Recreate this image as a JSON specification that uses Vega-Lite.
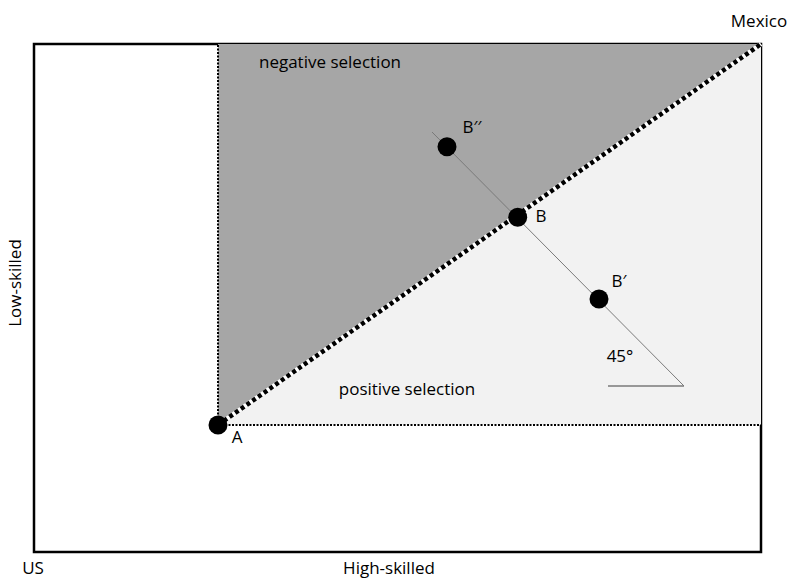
{
  "$schema": "https://vega.github.io/schema/vega-lite/v6.json",
  "width": 727,
  "height": 508,
  "autosize": {"type": "none"},
  "padding": {"left": 34, "top": 44, "right": 29, "bottom": 28},
  "background": "white",
  "config": {"view": {"stroke": "black", "strokeWidth": 2.5}, "font": "Open Sans"},
  "layer": [
    {
      "data": {"values": [{"x": 184, "y": 127, "y2": 508}, {"x": 727, "y": 508, "y2": 508}]},
      "mark": {"type": "area", "color": "#a6a6a6", "opacity": 1},
      "encoding": {
        "x": {"field": "x", "type": "quantitative", "scale": {"domain": [0, 727], "nice": false, "zero": false}, "axis": null},
        "y": {"field": "y", "type": "quantitative", "scale": {"domain": [0, 508], "nice": false, "zero": false}, "axis": null},
        "y2": {"field": "y2"}
      }
    },
    {
      "data": {"values": [{"x": 184, "y": 127, "y2": 127}, {"x": 727, "y": 508, "y2": 127}]},
      "mark": {"type": "area", "color": "#f2f2f2", "opacity": 1},
      "encoding": {
        "x": {"field": "x", "type": "quantitative", "axis": null},
        "y": {"field": "y", "type": "quantitative", "axis": null},
        "y2": {"field": "y2"}
      }
    },
    {
      "data": {"values": [
        {"x": 184, "y": 127, "x2": 184, "y2": 508, "kind": "v"},
        {"x": 184, "y": 127, "x2": 727, "y2": 127, "kind": "h"}
      ]},
      "mark": {"type": "rule", "color": "black", "strokeWidth": 2, "strokeDash": [2, 1.5], "strokeCap": "butt"},
      "encoding": {
        "x": {"field": "x", "type": "quantitative", "axis": null},
        "y": {"field": "y", "type": "quantitative", "axis": null},
        "x2": {"field": "x2"},
        "y2": {"field": "y2"}
      }
    },
    {
      "data": {"values": [{"x": 184, "y": 127, "x2": 727, "y2": 508}]},
      "mark": {"type": "rule", "color": "white", "strokeWidth": 4.5, "strokeCap": "butt"},
      "encoding": {
        "x": {"field": "x", "type": "quantitative", "axis": null},
        "y": {"field": "y", "type": "quantitative", "axis": null},
        "x2": {"field": "x2"},
        "y2": {"field": "y2"}
      }
    },
    {
      "data": {"values": [{"x": 184, "y": 127, "x2": 727, "y2": 508}]},
      "mark": {"type": "rule", "color": "black", "strokeWidth": 4.5, "strokeDash": [4, 3], "strokeCap": "butt"},
      "encoding": {
        "x": {"field": "x", "type": "quantitative", "axis": null},
        "y": {"field": "y", "type": "quantitative", "axis": null},
        "x2": {"field": "x2"},
        "y2": {"field": "y2"}
      }
    },
    {
      "data": {"values": [
        {"x": 398, "y": 420, "x2": 650, "y2": 166, "w": "thin"},
        {"x": 574, "y": 166, "x2": 650, "y2": 166, "w": "thick"}
      ]},
      "mark": {"type": "rule", "color": "#7a7a7a"},
      "encoding": {
        "x": {"field": "x", "type": "quantitative", "axis": null},
        "y": {"field": "y", "type": "quantitative", "axis": null},
        "x2": {"field": "x2"},
        "y2": {"field": "y2"},
        "strokeWidth": {"field": "w", "type": "nominal", "scale": {"domain": ["thin", "thick"], "range": [1, 1.6]}, "legend": null}
      }
    },
    {
      "data": {"values": [
        {"x": 184, "y": 127, "name": "A"},
        {"x": 483.7, "y": 334.7, "name": "B"},
        {"x": 413, "y": 405.3, "name": "B''"},
        {"x": 565, "y": 253, "name": "B'"}
      ]},
      "mark": {"type": "circle", "color": "black", "opacity": 1, "size": 360},
      "encoding": {
        "x": {"field": "x", "type": "quantitative", "axis": null},
        "y": {"field": "y", "type": "quantitative", "axis": null}
      }
    },
    {
      "data": {"values": [
        {"x": 203, "y": 114, "t": "A"},
        {"x": 507, "y": 335, "t": "B"},
        {"x": 438, "y": 424, "t": "B′′"},
        {"x": 585, "y": 270, "t": "B′"},
        {"x": 296, "y": 489, "t": "negative selection"},
        {"x": 373, "y": 162, "t": "positive selection"},
        {"x": 586, "y": 195, "t": "45°"},
        {"x": 725, "y": 530, "t": "Mexico"},
        {"x": -1, "y": -17, "t": "US"},
        {"x": 355, "y": -17, "t": "High-skilled"}
      ]},
      "mark": {"type": "text", "fontSize": 17, "color": "#000000", "align": "center", "baseline": "middle"},
      "encoding": {
        "x": {"field": "x", "type": "quantitative", "axis": null},
        "y": {"field": "y", "type": "quantitative", "axis": null},
        "text": {"field": "t"}
      }
    },
    {
      "data": {"values": [{"x": -18, "y": 269, "t": "Low-skilled"}]},
      "mark": {"type": "text", "fontSize": 17, "color": "#000000", "align": "center", "baseline": "middle", "angle": 270},
      "encoding": {
        "x": {"field": "x", "type": "quantitative", "axis": null},
        "y": {"field": "y", "type": "quantitative", "axis": null},
        "text": {"field": "t"}
      }
    }
  ]
}
